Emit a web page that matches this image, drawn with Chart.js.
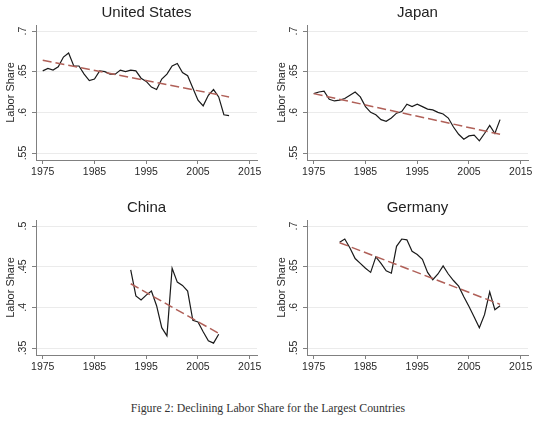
<!DOCTYPE html>
<html>
<head>
<meta charset="utf-8">
<script src="https://cdn.jsdelivr.net/npm/chart.js@4.4.1/dist/chart.umd.min.js"></script>
<style>
  body { margin: 0; background: #fff; width: 540px; height: 421px; position: relative; overflow: hidden; }
  .panel { position: absolute; width: 270px; height: 195px; }
  #caption { position: absolute; left: 0; width: 536px; top: 401px; line-height: 14px; text-align: center;
             font-family: "Liberation Serif", "Times New Roman", serif; font-size: 11.8px; color: #333; }
</style>
</head>
<body>
<div class="panel" style="left:0;top:0"><canvas id="us" width="270" height="195"></canvas></div>
<div class="panel" style="left:271px;top:0"><canvas id="japan" width="270" height="195"></canvas></div>
<div class="panel" style="left:0;top:195px"><canvas id="china" width="270" height="195"></canvas></div>
<div class="panel" style="left:271px;top:195px"><canvas id="germany" width="270" height="195"></canvas></div>
<div id="caption">Figure 2: Declining Labor Share for the Largest Countries</div>
<script>
// values
const years7511 = [1975, 1976, 1977, 1978, 1979, 1980, 1981, 1982, 1983, 1984, 1985, 1986, 1987,
                   1988, 1989, 1990, 1991, 1992, 1993, 1994, 1995, 1996, 1997, 1998, 1999, 2000,
                   2001, 2002, 2003, 2004, 2005, 2006, 2007, 2008, 2009, 2010, 2011];
const chinaYears = [1992, 1993, 1994, 1995, 1996, 1997, 1998, 1999, 2000, 2001, 2002, 2003,
                    2004, 2005, 2006, 2007, 2008, 2009];
const germanyYears = [1980, 1981, 1982, 1983, 1984, 1985, 1986, 1987, 1988, 1989, 1990, 1991,
                      1992, 1993, 1994, 1995, 1996, 1997, 1998, 1999, 2000, 2001, 2002, 2003,
                      2004, 2005, 2006, 2007, 2008, 2009, 2010, 2011];

const usShare = [.651, .654, .652, .656, .668, .673, .657, .657, .647, .639, .641, .651, .650,
                 .647, .647, .652, .650, .652, .651, .642, .638, .631, .628, .641, .647, .657,
                 .660, .649, .645, .630, .615, .608, .621, .628, .619, .597, .596];
const japanShare = [.623, .625, .626, .616, .614, .615, .617, .621, .625, .619, .607, .600, .597,
                    .591, .589, .593, .599, .601, .610, .607, .610, .607, .604, .603, .600, .598,
                    .593, .582, .573, .567, .571, .572, .565, .574, .584, .574, .591];
const chinaShare = [.446, .414, .409, .415, .420, .402, .375, .365, .448, .431, .427, .420,
                    .384, .382, .370, .359, .356, .367];
const germanyShare = [.680, .684, .673, .660, .654, .648, .643, .662, .654, .645, .642, .675,
                      .684, .683, .669, .665, .659, .643, .634, .641, .651, .641, .633, .626,
                      .613, .601, .588, .575, .591, .619, .597, .602];

// fitted trend lines (end points)
const usTrendYears = [1975, 2011];
const usTrend = [.664, .619];
const japanTrendYears = [1975, 2011];
const japanTrend = [.623, .573];
const chinaTrendYears = [1992, 2009];
const chinaTrend = [.429, .368];
const germanyTrendYears = [1980, 2011];
const germanyTrend = [.6795, .6037];

const xTicks = [1975, 1985, 1995, 2005, 2015];
const highTicks = [.55, .6, .65, .7];
const highLabels = ['.55', '.6', '.65', '.7'];
const lowTicks = [.35, .4, .45, .5];
const lowLabels = ['.35', '.4', '.45', '.5'];

Chart.defaults.font.family = '"Liberation Sans", Arial, sans-serif';
Chart.defaults.color = '#2a2a2a';

function toPoints(xs, ys) {
    return xs.map((x, i) => ({ x: x, y: ys[i] }));
}

function makePanel(id, title, years, share, trendYears, trend, yTicks, yLabels) {
    const ctx = document.getElementById(id).getContext('2d');
    return new Chart(ctx, {
        type: 'line',
        data: {
            datasets: [{
                data: toPoints(trendYears, trend),
                borderColor: 'rgb(176, 96, 88)',
                borderWidth: 1.5,
                borderDash: [9, 4],
                pointRadius: 0,
                fill: false
            }, {
                data: toPoints(years, share),
                borderColor: '#1a1a1a',
                borderWidth: 1.2,
                pointRadius: 0,
                tension: 0,
                fill: false
            }]
        },
        options: {
            responsive: false,
            animation: false,
            layout: { padding: { left: 0, right: 13, top: 0, bottom: 0 } },
            plugins: {
                legend: { display: false },
                tooltip: { enabled: false },
                title: {
                    display: true,
                    text: title,
                    fullSize: false,
                    color: '#222',
                    font: { size: 15, weight: 'normal' },
                    padding: { top: 4, bottom: 3 }
                }
            },
            scales: {
                x: {
                    type: 'linear',
                    min: 1973.7,
                    max: 2016.4,
                    afterBuildTicks: s => { s.ticks = xTicks.map(v => ({ value: v })); },
                    afterFit: s => { s.height = 35; },
                    grid: { drawOnChartArea: false, tickLength: 4, tickColor: '#808080' },
                    border: { color: '#808080', width: 1 },
                    ticks: { font: { size: 10.5 }, padding: 2, maxRotation: 0,
                             callback: v => String(v) }
                },
                y: {
                    type: 'linear',
                    min: yTicks[0] - 0.0086,
                    max: yTicks[yTicks.length - 1] + 0.0074,
                    afterBuildTicks: s => { s.ticks = yTicks.map(v => ({ value: v })); },
                    afterFit: s => { s.width = 36; },
                    grid: { color: '#ebebeb', lineWidth: 1, tickLength: 4, tickColor: '#808080' },
                    border: { color: '#808080', width: 1 },
                    ticks: { font: { size: 10.5 }, padding: 2, minRotation: 90, maxRotation: 90,
                             crossAlign: 'center',
                             callback: (v, i) => yLabels[i] },
                    title: { display: true, text: 'Labor Share',
                             font: { size: 11 }, padding: { top: 4, bottom: 0 } }
                }
            }
        }
    });
}

makePanel('us', 'United States', years7511, usShare, usTrendYears, usTrend, highTicks, highLabels);
makePanel('japan', 'Japan', years7511, japanShare, japanTrendYears, japanTrend, highTicks, highLabels);
makePanel('china', 'China', chinaYears, chinaShare, chinaTrendYears, chinaTrend, lowTicks, lowLabels);
makePanel('germany', 'Germany', germanyYears, germanyShare, germanyTrendYears, germanyTrend, highTicks, highLabels);
</script>
</body>
</html>
